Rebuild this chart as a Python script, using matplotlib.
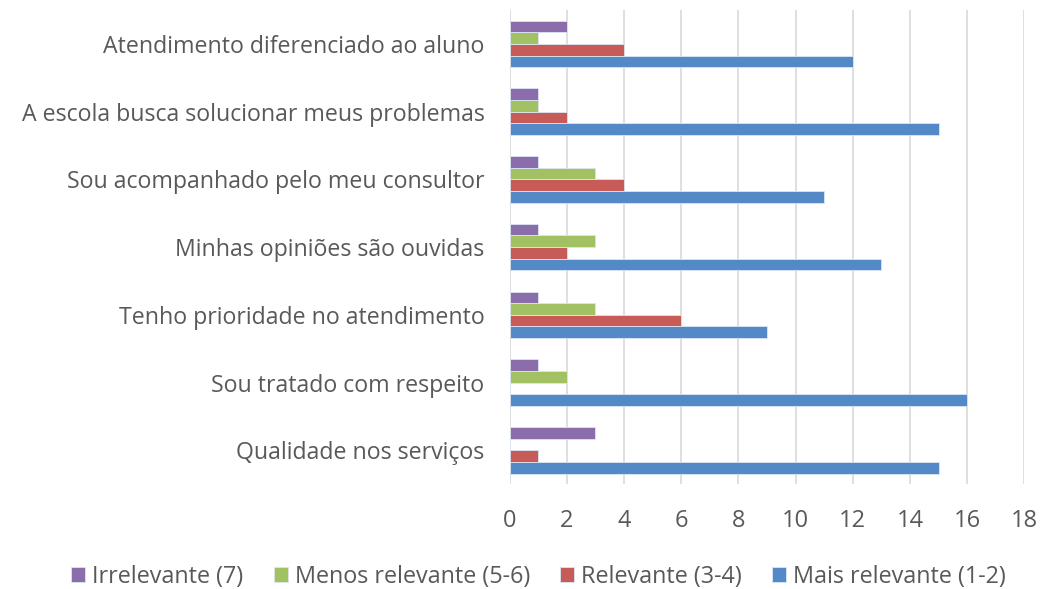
import matplotlib
matplotlib.use("Agg")
import matplotlib.pyplot as plt
import numpy as np

categories = ["Qualidade nos serviços", "Sou tratado com respeito",
              "Tenho prioridade no atendimento", "Minhas opiniões são ouvidas",
              "Sou acompanhado pelo meu consultor", "A escola busca solucionar meus problemas",
              "Atendimento diferenciado ao aluno"]
mais_relevante = [15, 16, 9, 13, 11, 15, 12]
relevante = [1, 0, 6, 2, 4, 2, 4]
menos_relevante = [0, 2, 3, 3, 3, 1, 1]
irrelevante = [3, 1, 1, 1, 1, 1, 2]
series_names = ["Mais relevante (1-2)", "Relevante (3-4)", "Menos relevante (5-6)", "Irrelevante (7)"]
colors = ["#5289C6", "#C65B57", "#A2C163", "#8A6DAA"]
xticks = [0, 2, 4, 6, 8, 10, 12, 14, 16, 18]

plt.rcParams['font.family'] = ['Open Sans', 'DejaVu Sans']
fig = plt.figure(figsize=(10.4, 5.89), dpi=100)
ax = fig.add_axes([0.490, 0.178, 0.495, 0.805])

y = np.arange(len(categories))
h = 0.172
data = [mais_relevante, relevante, menos_relevante, irrelevante]
bars = []
for i, (vals, name, c) in enumerate(zip(data, series_names, colors)):
    off = (i - 1.5) * h
    b = ax.barh(y + off, vals, height=h, color=c, edgecolor="#DCE6F2", linewidth=0.6, label=name, zorder=3)
    bars.append(b)

ax.set_xlim(0, 18)
ax.set_ylim(-0.5, len(categories) - 0.5)
ax.set_xticks(xticks)
ax.set_yticks(y)
ax.set_yticklabels(categories)
ax.grid(axis="x", color="#D9D9D9", linewidth=1.2, zorder=0)
for s in ax.spines.values():
    s.set_visible(False)
ax.tick_params(axis="y", length=0, pad=18, labelsize=16.7, labelcolor="#595959")
ax.tick_params(axis="x", length=0, pad=18, labelsize=17, labelcolor="#595959")

handles = [bars[3], bars[2], bars[1], bars[0]]
labels = [series_names[3], series_names[2], series_names[1], series_names[0]]
leg = fig.legend(handles, labels, loc="center", bbox_to_anchor=(0.518, 0.021), ncol=4,
                 frameon=False, fontsize=16.8, handlelength=0.6, handleheight=0.6,
                 handletextpad=0.3, columnspacing=1.3, labelcolor="#595959")
fig.savefig("out.png", dpi=100)
